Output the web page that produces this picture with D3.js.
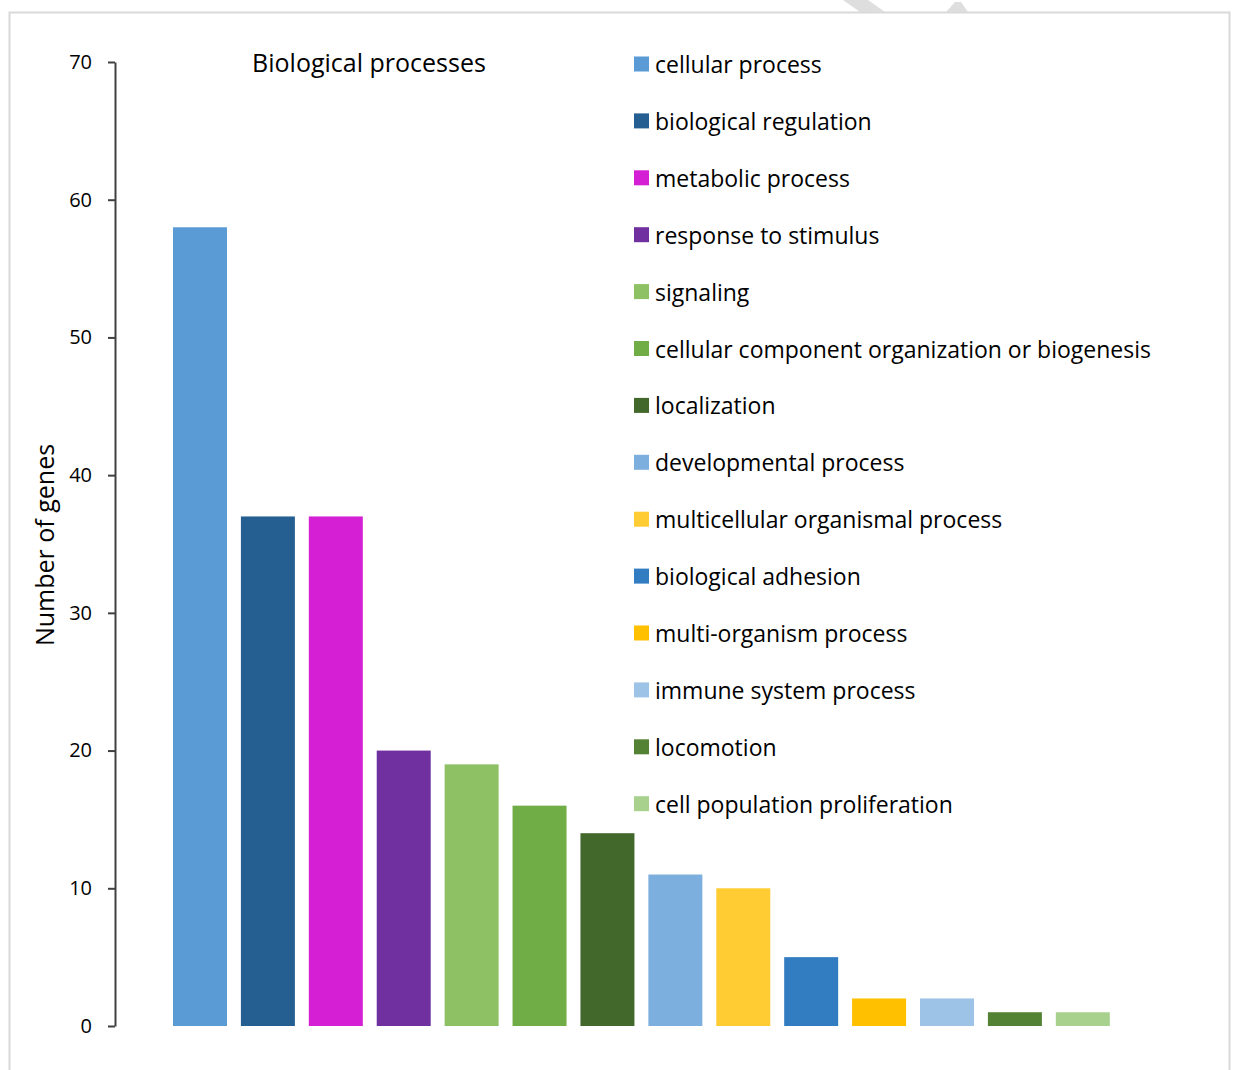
<!DOCTYPE html>
<html>
<head>
<meta charset="utf-8">
<script src="https://cdn.jsdelivr.net/npm/d3@7"></script>
<style>
  html, body { margin: 0; padding: 0; background: #fff; }
  svg { display: block; }
  text { font-family: "Open Sans", "Noto Sans", sans-serif; fill: #000; }
</style>
</head>
<body>
<svg id="chart" width="1237" height="1070"></svg>
<script>
// GO biological process categories and gene counts
const categories = [
  "cellular process",
  "biological regulation",
  "metabolic process",
  "response to stimulus",
  "signaling",
  "cellular component organization or biogenesis",
  "localization",
  "developmental process",
  "multicellular organismal process",
  "biological adhesion",
  "multi-organism process",
  "immune system process",
  "locomotion",
  "cell population proliferation"
];
const geneCounts = [58, 37, 37, 20, 19, 16, 14, 11, 10, 5, 2, 2, 1, 1];
const barColors = [
  "#5B9BD5", "#255E91", "#D41FD4", "#7030A0", "#8DC163", "#70AD47", "#43682B",
  "#7CAFDD", "#FFCD33", "#327DC2", "#FFC000", "#9DC3E6", "#548235", "#A9D18E"
];
const yTicks = [0, 10, 20, 30, 40, 50, 60, 70];

const svg = d3.select("#chart");

// chart frame
svg.append("rect")
  .attr("x", 9.5).attr("y", 12.5)
  .attr("width", 1220).attr("height", 1080)
  .attr("fill", "none").attr("stroke", "#d9d9d9").attr("stroke-width", 2);

// faint marks above the frame
svg.append("path")
  .attr("d", "M843,0 L868,0 L885,12 L860,12 Z")
  .attr("fill", "#dedede");
svg.append("path")
  .attr("d", "M946,12 L955,2 L961,2 L968,12 Z")
  .attr("fill", "#dedede");

const axisX = 115;
const y = d3.scaleLinear().domain([0, 70]).range([1026, 62]);
const x = d3.scaleBand()
  .domain(categories)
  .range([axisX, 1167.8])
  .paddingInner(0.205)
  .paddingOuter(0.854);

// bars
svg.append("g").selectAll("rect")
  .data(categories)
  .join("rect")
  .attr("x", d => x(d))
  .attr("width", x.bandwidth())
  .attr("y", (d, i) => y(geneCounts[i]))
  .attr("height", (d, i) => y(0) - y(geneCounts[i]))
  .attr("fill", (d, i) => barColors[i]);

// y axis
const yAxis = svg.append("g")
  .attr("transform", `translate(${axisX},0)`)
  .call(d3.axisLeft(y).tickValues(yTicks).tickSize(7).tickSizeOuter(0).tickPadding(16));
yAxis.select(".domain").attr("stroke", "#404040").attr("stroke-width", 2);
yAxis.selectAll(".tick line").attr("stroke", "#404040").attr("stroke-width", 2);
yAxis.selectAll(".tick text")
  .style("font-family", "\"Open Sans\", sans-serif")
  .style("font-size", "20px")
  .attr("fill", "#000");

// y axis title
svg.append("text")
  .attr("transform", "translate(44,545) rotate(-90)")
  .attr("text-anchor", "middle")
  .attr("dominant-baseline", "central")
  .style("font-size", "25px")
  .text("Number of genes");

// chart title
svg.append("text")
  .attr("x", 369).attr("y", 62)
  .attr("text-anchor", "middle")
  .attr("dominant-baseline", "central")
  .style("font-size", "25px")
  .text("Biological processes");

// legend
const legend = svg.append("g");
const legendRow = 56.9;
const rows = legend.selectAll("g")
  .data(categories)
  .join("g")
  .attr("transform", (d, i) => `translate(634,${64 + i * legendRow})`);
rows.append("rect")
  .attr("x", 0).attr("y", -7.5)
  .attr("width", 15).attr("height", 15)
  .attr("fill", (d, i) => barColors[i]);
rows.append("text")
  .attr("x", 21).attr("y", 0)
  .attr("dominant-baseline", "central")
  .style("font-size", "23px")
  .text(d => d);
</script>
</body>
</html>
